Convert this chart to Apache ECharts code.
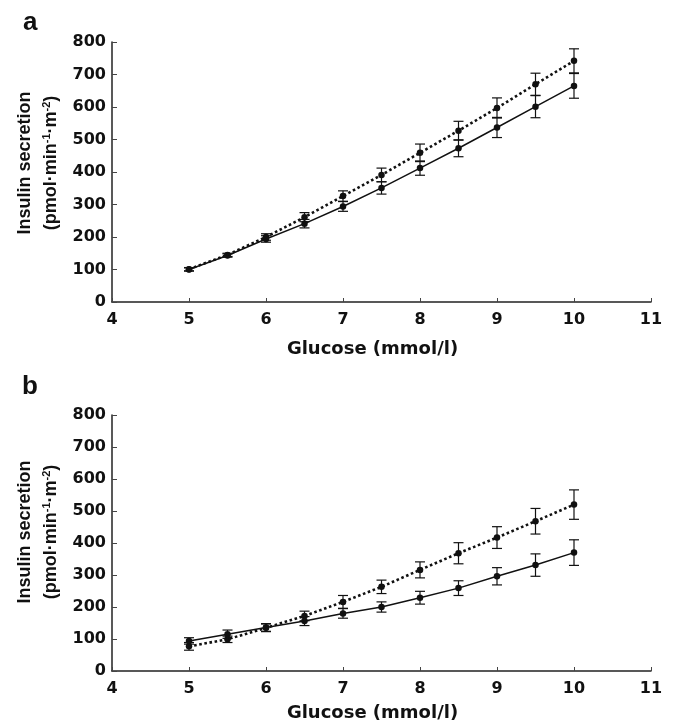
<!DOCTYPE html>
<html>
<head>
<meta charset="utf-8">
<script src="https://cdn.jsdelivr.net/npm/echarts@6/dist/echarts.min.js"></script>
<style>
  html, body { margin: 0; padding: 0; background: #fff; }
  #chart { width: 674px; height: 724px; }
</style>
</head>
<body>
<div id="chart"></div>
<script>
// Glucose steps (mmol/l)
const glucose = [5, 5.5, 6, 6.5, 7, 7.5, 8, 8.5, 9, 9.5, 10];

// Panel a: insulin secretion, mean and error
const aDottedMean = [101, 145, 200, 261, 326, 391, 459, 527, 597, 670, 742];
const aDottedErr  = [5, 5, 10, 14, 16, 21, 27, 29, 31, 34, 37];
const aSolidMean  = [100, 143, 194, 241, 294, 351, 412, 473, 537, 601, 665];
const aSolidErr   = [5, 5, 10, 13, 15, 19, 22, 26, 31, 34, 38];

// Panel b: insulin secretion, mean and error
const bDottedMean = [77, 99, 135, 172, 216, 263, 316, 368, 417, 468, 520];
const bDottedErr  = [12, 10, 12, 15, 20, 21, 25, 33, 34, 40, 46];
const bSolidMean  = [94, 115, 136, 156, 180, 200, 229, 259, 296, 331, 370];
const bSolidErr   = [10, 13, 12, 14, 15, 16, 20, 23, 27, 35, 40];

// Axis ticks
const xTicks = [4, 5, 6, 7, 8, 9, 10, 11];
const yTicks = [0, 100, 200, 300, 400, 500, 600, 700, 800];

const INK = '#111';
const AXIS = '#222';
const TICK_FONT = 'DejaVu Sans';
const TITLE_FONT = 'Liberation Sans';

function pairs(xs, ys) { return xs.map((x, i) => [x, ys[i]]); }
function triples(xs, ys, es) { return xs.map((x, i) => [x, ys[i], es[i]]); }

function errorBars(idx, xs, ys, es) {
  return {
    type: 'custom',
    xAxisIndex: idx, yAxisIndex: idx,
    z: 5,
    silent: true,
    data: triples(xs, ys, es),
    renderItem: function (params, api) {
      const x = api.value(0), y = api.value(1), e = api.value(2);
      const hi = api.coord([x, y + e]);
      const lo = api.coord([x, y - e]);
      const w = 5;
      const st = { stroke: INK, lineWidth: 1.2 };
      return {
        type: 'group',
        children: [
          { type: 'line', shape: { x1: hi[0], y1: hi[1], x2: lo[0], y2: lo[1] }, style: st },
          { type: 'line', shape: { x1: hi[0] - w, y1: hi[1], x2: hi[0] + w, y2: hi[1] }, style: st },
          { type: 'line', shape: { x1: lo[0] - w, y1: lo[1], x2: lo[0] + w, y2: lo[1] }, style: st }
        ]
      };
    }
  };
}

function lineSeries(idx, xs, ys, dotted) {
  return {
    type: 'line',
    xAxisIndex: idx, yAxisIndex: idx,
    data: pairs(xs, ys),
    symbol: 'circle',
    symbolSize: 6.5,
    z: 4,
    animation: false,
    itemStyle: { color: INK },
    lineStyle: dotted
      ? { color: INK, width: 2.6, type: 'dotted' }
      : { color: INK, width: 1.5, type: 'solid' }
  };
}

const yTitle = '{t|Insulin secretion}\n{t|(pmol·min}{s|-1}{t|·m}{s|-2}{t|)}';

function xAxis(idx, gap) {
  return {
    type: 'value', gridIndex: idx,
    min: 4, max: 11, interval: 1,
    name: 'Glucose (mmol/l)',
    nameLocation: 'middle',
    nameGap: gap,
    nameTextStyle: {
      fontFamily: TICK_FONT, fontWeight: 'bold', fontSize: 18, color: INK,
      padding: [0, 18, 0, 0]
    },
    axisLine: { show: true, lineStyle: { color: AXIS, width: 1.5 } },
    axisTick: { show: true, inside: true, length: 4, lineStyle: { color: '#444', width: 1 } },
    axisLabel: {
      margin: 10, fontFamily: TICK_FONT, fontWeight: 'bold', fontSize: 16, color: INK,
      showMinLabel: true, showMaxLabel: true,
      customValues: xTicks
    },
    splitLine: { show: false }
  };
}

function yAxis(idx, shift) {
  return {
    type: 'value', gridIndex: idx,
    min: 0, max: 800, interval: 100,
    name: yTitle,
    nameLocation: 'middle',
    nameRotate: 90,
    nameGap: 48,
    nameTextStyle: {
      padding: [0, 0, 0, shift],
      rich: {
        t: { fontFamily: TITLE_FONT, fontWeight: 'bold', fontSize: 18, color: INK, lineHeight: 26 },
        s: { fontFamily: TITLE_FONT, fontWeight: 'bold', fontSize: 11, color: INK, lineHeight: 26, verticalAlign: 'top', padding: [3, 0, 0, 0] }
      }
    },
    axisLine: { show: true, lineStyle: { color: AXIS, width: 1.5 } },
    axisTick: { show: true, inside: true, length: 5, lineStyle: { color: '#444', width: 1 } },
    axisLabel: {
      margin: 6, fontFamily: TICK_FONT, fontWeight: 'bold', fontSize: 16, color: INK,
      customValues: yTicks
    },
    splitLine: { show: false }
  };
}

const chart = echarts.init(document.getElementById('chart'), null, { renderer: 'canvas' });

chart.setOption({
  backgroundColor: '#fff',
  animation: false,
  grid: [
    { left: 112, right: 23, top: 42, height: 260 },
    { left: 112, right: 23, top: 415, height: 256 }
  ],
  xAxis: [xAxis(0, 38), xAxis(1, 33)],
  yAxis: [yAxis(0, 18), yAxis(1, 22)],
  graphic: [
    { type: 'text', left: 23, top: 10, style: { text: 'a', fontFamily: TITLE_FONT, fontWeight: 'bold', fontSize: 26, fill: INK } },
    { type: 'text', left: 22, top: 374, style: { text: 'b', fontFamily: TITLE_FONT, fontWeight: 'bold', fontSize: 26, fill: INK } }
  ],
  series: [
    lineSeries(0, glucose, aSolidMean, false),
    lineSeries(0, glucose, aDottedMean, true),
    errorBars(0, glucose, aSolidMean, aSolidErr),
    errorBars(0, glucose, aDottedMean, aDottedErr),
    lineSeries(1, glucose, bSolidMean, false),
    lineSeries(1, glucose, bDottedMean, true),
    errorBars(1, glucose, bSolidMean, bSolidErr),
    errorBars(1, glucose, bDottedMean, bDottedErr)
  ]
});
</script>
</body>
</html>
